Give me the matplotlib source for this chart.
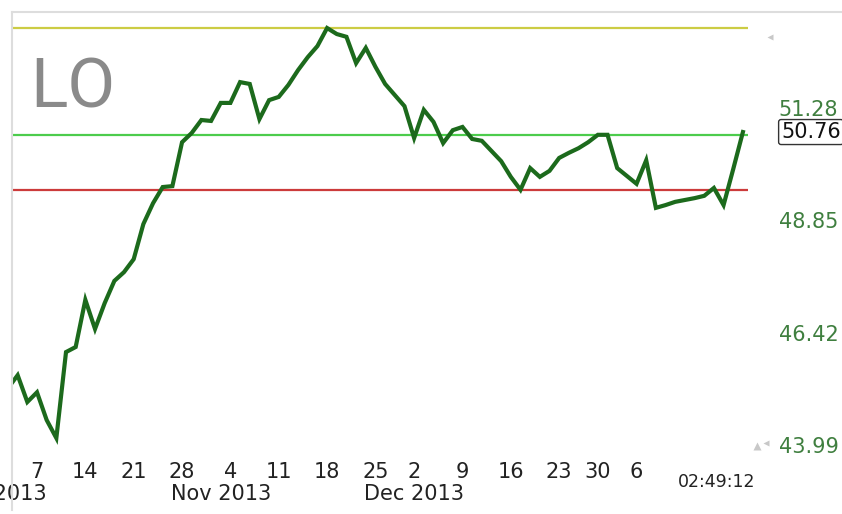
import numpy as np
import pandas as pd
import matplotlib
matplotlib.use("Agg")
import matplotlib.pyplot as plt
from matplotlib.lines import Line2D

# trading calendar (x axis is trading-day index, like the source chart)
holidays = ["2013-11-28", "2013-12-25", "2014-01-01"]
cal = pd.bdate_range("2013-10-01", "2014-01-21")
cal = cal[~cal.isin(pd.to_datetime(holidays))]

# closing prices, Oct 2 2013 .. Jan 21 2014
prices = [
    45.22, 45.50, 44.92, 45.13, 44.53, 44.14, 46.00, 46.11, 47.13, 46.50,
    47.06, 47.54, 47.73, 48.01, 48.77, 49.22, 49.57, 49.59, 50.54, 50.74,
    51.02, 51.00, 51.39, 51.39, 51.84, 51.80, 51.04, 51.45, 51.52, 51.78,
    52.10, 52.38, 52.62, 53.01, 52.88, 52.82, 52.25, 52.58, 52.17, 51.80,
    51.56, 51.32, 50.63, 51.24, 50.98, 50.52, 50.80, 50.87, 50.61, 50.57,
    50.35, 50.13, 49.79, 49.51, 49.98, 49.79, 49.92, 50.20, 50.31, 50.41,
    50.54, 50.70, 50.70, 49.98, 49.81, 49.64, 50.15, 49.12, 49.18, 49.25,
    49.29, 49.33, 49.38, 49.55, 49.18, 49.96, 50.76,
]
price_start = "2013-10-02"

level_high = 53.01
level_mid = 50.70
level_low = 49.51
last_price = 50.76

y_ticks = [51.28, 48.85, 46.42, 43.99]
tick_dates = ["2013-10-07", "2013-10-14", "2013-10-21", "2013-10-28",
              "2013-11-04", "2013-11-11", "2013-11-18", "2013-11-25",
              "2013-12-02", "2013-12-09", "2013-12-16", "2013-12-23",
              "2013-12-30", "2014-01-06"]
month_labels = ["Oct 2013", "Nov 2013", "Dec 2013"]
month_dates = ["2013-10-01", "2013-11-01", "2013-12-02"]
symbol = "LO"
timestamp = "02:49:12"

W, H = 842, 514
fig = plt.figure(figsize=(W / 100, H / 100), dpi=100)
fig.patch.set_facecolor("white")

# axes box in pixels
L, R, T, B = 12, 748, 12, 456
ax = fig.add_axes([L / W, 1 - B / H, (R - L) / W, (B - T) / H])
ax.set_facecolor("white")

start = cal.get_loc(pd.Timestamp(price_start))
x = np.arange(start, start + len(prices))
ax.plot(x, prices, color="#1c6a1c", lw=3.0, solid_joinstyle="miter", zorder=5)

ax.axhline(level_high, color="#cccc44", lw=1.6)
ax.axhline(level_mid, color="#4ccc4c", lw=1.6)
ax.axhline(level_low, color="#cc3b3b", lw=1.6)

# scale: 9.67 px per trading day, Oct 7 at pixel 37
px_day = 9.67
i0 = cal.get_loc(pd.Timestamp("2013-10-07"))
ax.set_xlim(i0 - (37 - L) / px_day, i0 + (R - 37) / px_day)
k = (51.28 - 43.99) / (445 - 108)
ax.set_ylim(51.28 - (B - 108) * k, 51.28 + (108 - T) * k)

for s in ax.spines.values():
    s.set_visible(False)

tick_pos = cal.get_indexer(pd.to_datetime(tick_dates))
ax.set_xticks(tick_pos)
ax.set_xticklabels([str(pd.Timestamp(d).day) for d in tick_dates])
ax.tick_params(axis="x", length=0, pad=4, labelsize=15, labelcolor="#222222")

ax.yaxis.tick_right()
ax.set_yticks(y_ticks)
ax.set_yticklabels([f"{v:.2f}" for v in y_ticks])
ax.tick_params(axis="y", length=0, pad=22, labelsize=15, labelcolor="#3f7f3f")

# month labels sit under the first trading day of each month (Oct is cut by the edge)
for lab, d in zip(month_labels, month_dates):
    ax.text(cal.get_loc(pd.Timestamp(d)), -0.085, lab, transform=ax.get_xaxis_transform(),
            ha="center", va="center", fontsize=15, color="#222222", clip_on=False)

ax.text(717 / W, 1 - 482 / H, timestamp, transform=fig.transFigure, ha="center",
        va="center", fontsize=12.5, color="#222222")

ax.text(1.045, last_price, f"{last_price:.2f}", transform=ax.get_yaxis_transform(),
        ha="left", va="center", fontsize=15, color="#111111", clip_on=False,
        bbox=dict(boxstyle="round,pad=0.12", fc="white", ec="#333333", lw=1))

fig.text(30 / W, 1 - 107 / H, symbol, ha="left", va="baseline", fontsize=50,
         family="Roboto", color="#8a8a8a")

# frame lines (top runs full width, left runs down past the date labels)
fig.add_artist(Line2D([L / W, 1], [1 - T / H, 1 - T / H], color="#dddddd", lw=1.5))
fig.add_artist(Line2D([L / W, L / W], [1 - T / H, 1 - 510 / H], color="#dddddd", lw=1.5))

# little gray scroll markers
fig.add_artist(Line2D([770 / W], [1 - 37 / H], marker="<", ms=5, color="#c8c8c8", mec="none"))
fig.add_artist(Line2D([757 / W], [1 - 446 / H], marker="^", ms=6, color="#c8c8c8", mec="none"))
fig.add_artist(Line2D([766 / W], [1 - 443 / H], marker="<", ms=5, color="#c8c8c8", mec="none"))

fig.savefig("out.png", dpi=100, facecolor="white")
